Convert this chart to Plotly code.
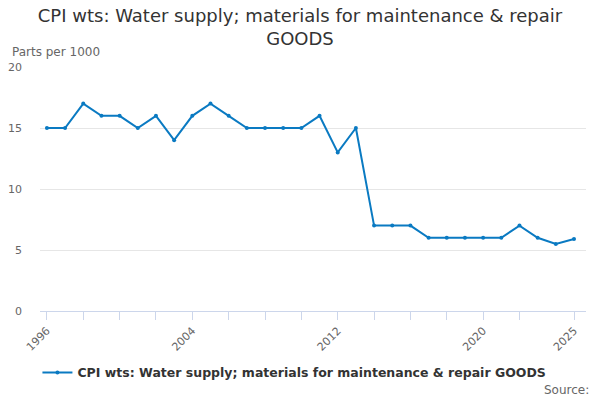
import plotly.graph_objects as go

# CPI weights, parts per 1000
years = list(range(1996, 2026))
weights = [15, 15, 17, 16, 16, 15, 16, 14, 16, 17,
           16, 15, 15, 15, 15, 16, 13, 15, 7, 7,
           7, 6, 6, 6, 6, 6, 7, 6, 5.5, 5.9]

tick_years = list(range(1996, 2023, 2)) + [2025]
labelled = {1996, 2004, 2012, 2020, 2025}
tick_text = [str(y) if y in labelled else "" for y in tick_years]

series_name = "CPI wts: Water supply; materials for maintenance & repair GOODS"

fig = go.Figure()
fig.add_trace(go.Scatter(
    x=years, y=weights, mode="lines+markers", name=series_name,
    line=dict(color="#0a7ac2", width=2),
    marker=dict(size=4, color="#0a7ac2")))

fig.update_layout(
    width=600, height=400,
    paper_bgcolor="white", plot_bgcolor="white",
    font=dict(family="DejaVu Sans", color="#666666", size=11),
    title=dict(text="CPI wts: Water supply; materials for maintenance & repair<br>GOODS",
               x=0.5, xanchor="center", y=0.945, yanchor="top",
               font=dict(size=18, color="#333333")),
    margin=dict(l=40, r=14, t=67, b=89, autoexpand=False),
    showlegend=True,
    legend=dict(orientation="h", x=0.466, xanchor="center", y=-0.254, yanchor="middle",
                font=dict(size=12.5, color="#333333", family="DejaVu Sans", weight="bold"),
                itemwidth=30),
)

fig.update_xaxes(
    range=[1995.62, 2025.66], tickmode="array", tickvals=tick_years, ticktext=tick_text,
    tickangle=-45, ticks="outside", ticklen=8, tickcolor="#ccd6eb",
    showline=True, linecolor="#ccd6eb", showgrid=False, zeroline=False,
    tickfont=dict(size=11, color="#666666"))
fig.update_yaxes(
    range=[0, 20], tickvals=[0, 5, 10, 15, 20], showgrid=True, gridcolor="#e6e6e6",
    zeroline=False, showline=False, ticks="", ticklabelstandoff=17,
    tickfont=dict(size=11, color="#666666"))

fig.add_annotation(text="Parts per 1000", xref="paper", yref="paper",
                   x=-0.055, y=1.0, xanchor="left", yanchor="bottom", yshift=6,
                   showarrow=False, font=dict(size=12, color="#666666"))
fig.add_annotation(text="Source:", xref="paper", yref="paper",
                   x=1.01, y=-0.325, xanchor="right", yanchor="middle",
                   showarrow=False, font=dict(size=12, color="#666666"))

# the default page keeps the browser's 8px body margin; drop it
fig.write_html("out.html", config={"displayModeBar": False},
               post_script="document.body.style.margin='0';")
